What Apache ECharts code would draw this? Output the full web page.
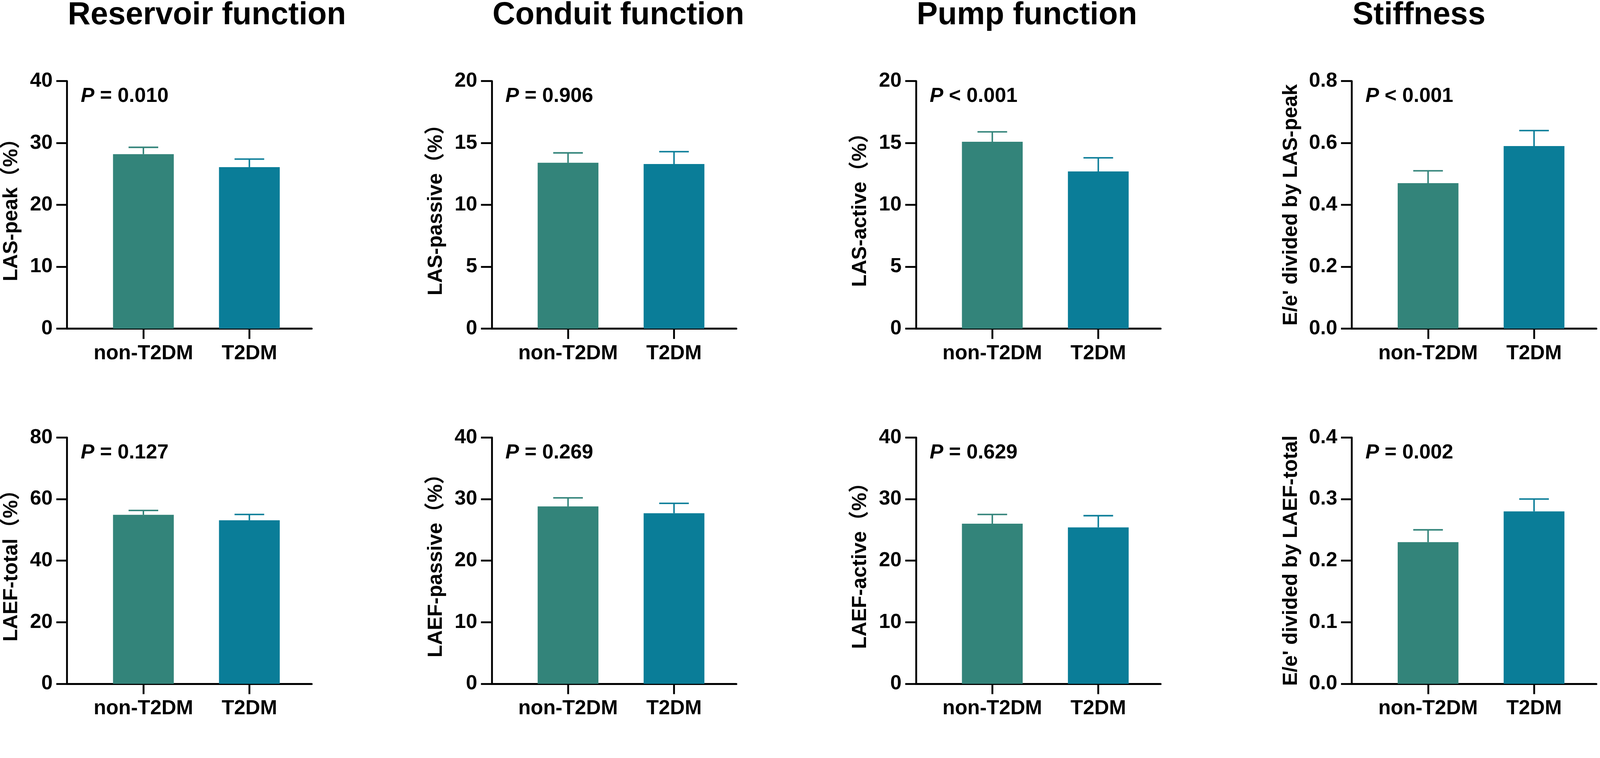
<!DOCTYPE html>
<html>
<head>
<meta charset="utf-8">
<script src="https://cdn.jsdelivr.net/npm/echarts@6/dist/echarts.min.js"></script>
<style>
html,body{margin:0;padding:0;background:#fff;overflow:hidden;}
#c{position:absolute;left:0;top:0;}
</style>
</head>
<body>
<div id="c"></div>
<script>
// ---------------- data ----------------
const groups = ['non-T2DM', 'T2DM'];
const columnTitles = ['Reservoir function', 'Conduit function', 'Pump function', 'Stiffness'];
const yNames = ['LAS-peak（%）', 'LAS-passive（%）', 'LAS-active（%）', "E/e' divided by LAS-peak",
                'LAEF-total（%）', 'LAEF-passive（%）', 'LAEF-active（%）', "E/e' divided by LAEF-total"];
const pOps = ['= 0.010', '= 0.906', '< 0.001', '< 0.001', '= 0.127', '= 0.269', '= 0.629', '= 0.002'];
const yMax = [40, 20, 20, 0.8, 80, 40, 40, 0.4];
const yStep = [10, 5, 5, 0.2, 20, 10, 10, 0.1];
const yDecimals = [0, 0, 0, 1, 0, 0, 0, 1];
const nonT2DMMean = [28.2, 13.4, 15.1, 0.47, 54.9, 28.8, 26.0, 0.23];
const nonT2DMErr  = [1.1, 0.8, 0.8, 0.04, 1.4, 1.4, 1.5, 0.02];
const t2dmMean    = [26.1, 13.3, 12.7, 0.59, 53.1, 27.7, 25.4, 0.28];
const t2dmErr     = [1.3, 1.0, 1.1, 0.05, 1.9, 1.6, 1.9, 0.02];

// ---------------- style / layout (in reference pixels, scaled to the viewport) ----------------
const REF_W = 4318, REF_H = 1941;
const vw = window.innerWidth || REF_W, vh = window.innerHeight || REF_H;
const S = Math.min(vw / REF_W, vh / REF_H);
const px = v => v * S;

const FONT = '"Liberation Sans", Arial, "Noto Sans CJK SC", sans-serif';
const colors = ['#33847A', '#0A7D98'];
const colX = [181, 1327, 2472, 3648];
const rowY = [219, 1181];
const plotW = 660, plotH = 668;
const xMin = 1 - 206 / 286, xMax = 2 + 168 / 286;

const el = document.getElementById('c');
el.style.width = px(REF_W) + 'px';
el.style.height = px(REF_H) + 'px';
const chart = echarts.init(el, null, {renderer: 'canvas'});

const grid = [], xAxis = [], yAxis = [], series = [], graphic = [];
for (let i = 0; i < 8; i++) {
  const col = i % 4, row = Math.floor(i / 4);
  grid.push({left: px(colX[col]), top: px(rowY[row]), width: px(plotW), height: px(plotH), containLabel: false});
  xAxis.push({
    type: 'value', gridIndex: i, min: xMin, max: xMax,
    splitLine: {show: false},
    axisLine: {show: true, lineStyle: {color: '#000', width: px(5.5)}},
    axisTick: {show: true, customValues: [1, 2], length: px(28), lineStyle: {color: '#000', width: px(5)}},
    axisLabel: {show: true, customValues: [1, 2], margin: px(40), color: '#000', fontSize: px(55), fontWeight: 'bold', fontFamily: FONT,
      formatter: v => groups[Math.round(v) - 1] || ''}
  });
  const dec = yDecimals[i];
  yAxis.push({
    type: 'value', gridIndex: i, min: 0, max: yMax[i], interval: yStep[i],
    splitLine: {show: false},
    axisLine: {show: true, lineStyle: {color: '#000', width: px(5)}},
    axisTick: {show: true, length: px(29), lineStyle: {color: '#000', width: px(5)}},
    axisLabel: {margin: px(39), color: '#000', fontSize: px(55), fontWeight: 'bold', fontFamily: FONT,
      formatter: v => Number(v).toFixed(dec)},
    name: yNames[i], nameLocation: 'middle', nameRotate: 90,
    nameGap: px(col === 3 ? 136 : 122),
    nameTextStyle: {color: '#000', fontSize: px(55), fontWeight: 'bold', fontFamily: FONT}
  });
  const means = [nonT2DMMean[i], t2dmMean[i]];
  const errs = [nonT2DMErr[i], t2dmErr[i]];
  series.push({
    type: 'bar', xAxisIndex: i, yAxisIndex: i, barWidth: px(164), silent: true,
    data: means.map((m, k) => ({value: [k + 1, m], itemStyle: {color: colors[k]}}))
  });
  series.push({
    type: 'custom', xAxisIndex: i, yAxisIndex: i, silent: true, z: 5,
    data: means.map((m, k) => [k + 1, m, errs[k], k]),
    renderItem: function (params, api) {
      const x = api.value(0), m = api.value(1), e = api.value(2), k = api.value(3);
      const p0 = api.coord([x, m]);
      const p1 = api.coord([x, m + e]);
      const c = colors[k];
      const hw = px(40);
      return {type: 'group', children: [
        {type: 'line', shape: {x1: p0[0], y1: p0[1], x2: p1[0], y2: p1[1]}, style: {stroke: c, lineWidth: px(4)}},
        {type: 'line', shape: {x1: p1[0] - hw, y1: p1[1], x2: p1[0] + hw, y2: p1[1]}, style: {stroke: c, lineWidth: px(4)}}
      ]};
    }
  });
  graphic.push({
    type: 'text', x: px(colX[col] + 37), y: px(rowY[row] + 41), silent: true,
    style: {
      text: '{i|P} ' + pOps[i],
      fill: '#000', fontSize: px(55), fontWeight: 'bold', fontFamily: FONT,
      align: 'left', verticalAlign: 'middle',
      rich: {i: {fontStyle: 'italic', fontWeight: 'bold', fontSize: px(55), fontFamily: FONT, fill: '#000'}}
    }
  });
}
columnTitles.forEach((t, c) => {
  graphic.push({
    type: 'text', x: px(colX[c] + 2), y: px(42), silent: true,
    style: {text: t, fill: '#000', fontSize: px(85), fontWeight: 'bold', fontFamily: FONT, align: 'left', verticalAlign: 'middle'}
  });
});

chart.setOption({
  backgroundColor: '#fff',
  animation: false,
  grid, xAxis, yAxis, series, graphic
});
</script>
</body>
</html>
